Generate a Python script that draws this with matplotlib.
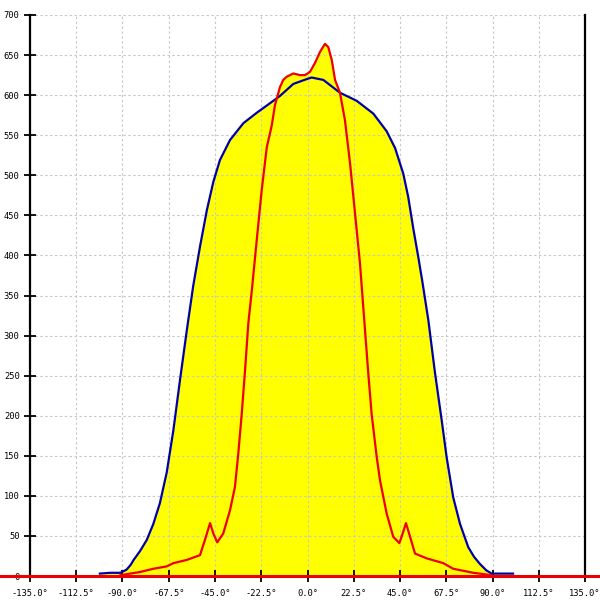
import numpy as np
import matplotlib.pyplot as plt
from matplotlib.lines import Line2D

# wide beam (blue, filled)
blue_deg = [-101, -96, -91, -88, -86, -84.6, -81.5, -78.2, -75, -71.8, -68.5, -65.3, -62, -58.8,
            -55.6, -52.3, -49, -45.8, -42.6, -37.7, -31.2, -24.7, -18.2, -13.4, -6.9, -0.4,
            2, 7.7, 15.8, 23.9, 32, 38.5, 42.6, 46.6, 49, 51.5, 53.9, 55.9, 58.8, 62, 65.3,
            67.7, 70.9, 74.2, 78.2, 81, 83.9, 87, 89.6, 94, 100]
blue_val = [3, 4, 4, 8, 14, 20, 31, 45, 65, 91, 129, 181, 245, 305,
            362, 411, 456, 492, 519, 544, 565, 578, 590, 599, 614, 620,
            622, 619, 603, 593, 577, 555, 534, 502, 473, 433, 398, 367, 319, 254, 194,
            148, 98, 65, 36, 24, 15, 7, 3, 3, 3]

# narrow beam (red)
red_deg = [-91, -81.5, -75, -68.5, -65.3, -58.8, -52.3, -49.9, -47.4, -45.8, -43.9, -41,
           -37.7, -35.3, -33.7, -32, -30.4, -28.8, -27.1, -24.7, -22.3, -19.8, -17.4, -15.8,
           -13.4, -11.8, -10.1, -6.9, -3.6, -1.2, 1.2, 3.6, 6.1, 8.5, 10.1, 11.8, 13.4, 15.8,
           18.2, 20.7, 23.1, 25.5, 28, 29.6, 31.2, 33.7, 35.3, 38.5, 41.7, 44.7, 46.3, 47.9,
           49.9, 52.3, 58, 66.1, 70.9, 80.7, 89.6]
red_val = [1, 5, 9, 12, 16, 20, 26, 45, 66, 53, 42, 53,
           82, 111, 152, 202, 256, 315, 356, 419, 481, 535, 562, 588,
           610, 619, 623, 627, 625, 625, 629, 640, 654, 664, 660, 644, 619, 603,
           569, 515, 453, 391, 306, 252, 202, 148, 119, 78, 49, 41, 53, 66,
           49, 28, 22, 16, 9, 4, 1]

x_ticks = np.arange(-135, 135.1, 22.5)
y_ticks = np.arange(0, 701, 50)

fig = plt.figure(figsize=(6, 6), dpi=100)
ax = fig.add_axes([30 / 600, 24 / 600, 555 / 600, 561 / 600])

ax.fill_between(blue_deg, blue_val, 0, color='#ffff00', lw=0, zorder=1)
ax.fill_between(red_deg, red_val, 0, color='#ffff00', lw=0, zorder=1)
ax.plot(blue_deg, blue_val, color='#0000a8', lw=1.6, zorder=3)
ax.plot(red_deg, red_val, color='#ee0000', lw=1.6, zorder=4)

ax.set_xlim(-135, 135)
ax.set_ylim(0, 700)
ax.set_xticks(x_ticks)
ax.set_xticklabels(['%.1f°' % v for v in x_ticks])
ax.set_yticks(y_ticks)
ax.set_yticklabels([str(v) for v in y_ticks])

ax.grid(True, color='#c8c8c8', linestyle=(0, (2.2, 2.2)), lw=0.8)
for line in ax.get_xgridlines() + ax.get_ygridlines():
    line.set_zorder(2)

ax.spines['top'].set_visible(False)
ax.spines['bottom'].set_visible(False)
ax.spines['left'].set_linewidth(1.6)
ax.spines['right'].set_linewidth(1.6)

ax.tick_params(axis='both', direction='inout', length=9, width=1.3, color='black',
               labelsize=6.3, pad=3)
ax.tick_params(axis='x', pad=5)
for lab in ax.get_xticklabels() + ax.get_yticklabels():
    lab.set_family('DejaVu Sans Mono')

# red baseline across the whole width
fig.add_artist(Line2D([0, 1], [24 / 600, 24 / 600], color='#ee0000', lw=2.2, zorder=10))

fig.savefig('out.png', dpi=100)
